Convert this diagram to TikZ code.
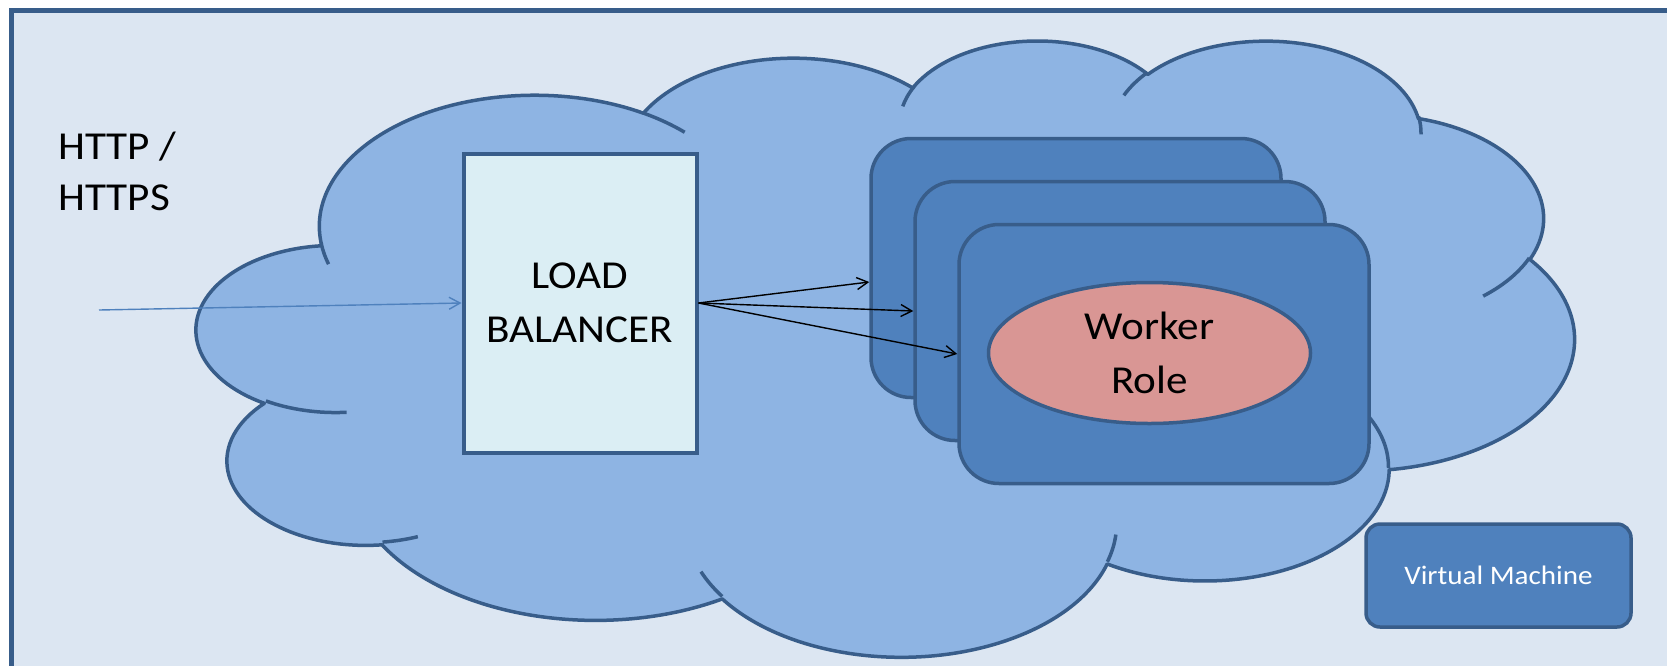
\documentclass[tikz,border=0pt]{standalone}
\usepackage{fontspec}
\newfontfamily\carl{Carlito}[FakeStretch=1.09]
\usetikzlibrary{arrows.meta,calc,shapes.geometric}
\definecolor{bgc}{HTML}{DCE6F2}
\definecolor{edgec}{HTML}{385D8A}
\definecolor{cloudc}{HTML}{8EB4E3}
\definecolor{lbc}{HTML}{DBEEF4}
\definecolor{boxc}{HTML}{4F81BD}
\definecolor{ellc}{HTML}{D99694}
\definecolor{inc}{HTML}{4F81BD}
\pgfmathdeclarefunction{oarcs}{3}{\pgfmathparse{atan2(#1*sin(#3),#2*cos(#3))}}
\pgfmathdeclarefunction{oarcd}{4}{%
  \begingroup
  \pgfmathparse{atan2(#1*sin(#3+#4),#2*cos(#3+#4))-atan2(#1*sin(#3),#2*cos(#3))}%
  \let\oarctmp\pgfmathresult
  \pgfmathparse{\oarctmp+360*round((#4-\oarctmp)/360)}%
  \pgfmathsmuggle\pgfmathresult
  \endgroup}
\newcommand\oarc[4]{arc[start angle={oarcs(#1,#2,#3)}, delta angle={oarcd(#1,#2,#3,#4)}, x radius=#1pt, y radius=#2pt]}
\tikzset{
  cloudline/.style={draw=edgec, line width=3.5pt, line join=round},
  lbbox/.style={draw=edgec, line width=4pt, fill=lbc, minimum width=233pt, minimum height=299pt, inner sep=0pt, align=center, font=\carl\fontsize{39.6}{54}\selectfont},
  wbox/.style={draw=edgec, line width=3.5pt, fill=boxc, rounded corners=40pt, minimum width=410pt, minimum height=259pt},
  wrole/.style={ellipse, draw=edgec, line width=3.5pt, fill=ellc, minimum width=322pt, minimum height=141pt, inner sep=0pt, align=center, font=\carl\fontsize{39.6}{54}\selectfont},
  vmbox/.style={draw=edgec, line width=3.5pt, fill=boxc, rounded corners=14pt, minimum width=265pt, minimum height=103pt, text=white, font=\carl\fontsize{26.7}{32}\selectfont},
  lbl/.style={inner sep=0pt, align=left, font=\carl\fontsize{39.6}{51}\selectfont},
  outarrow/.style={draw=black, line width=1.4pt, -{Straight Barb[length=11pt,width=12pt,line width=1.4pt]}},
  inarrow/.style={draw=inc, line width=1.4pt, -{Straight Barb[length=11pt,width=12pt,line width=1.4pt]}}
}
\begin{document}
\begin{tikzpicture}[x=1pt,y=1pt,yscale=-1]
\useasboundingbox (0,0) rectangle (1667,665);
\clip (0,0) rectangle (1667,665);
\fill[white] (0,0) rectangle (1667,665);
\filldraw[fill=bgc, draw=edgec, line width=4.5pt] (11.5,10.5) rectangle (1720,720);
% cloud
\begin{scope}[shift={(197,39)}, xscale=31.875, yscale=14.26]
\filldraw[cloudline, fill=cloudc] (3.900,14.370)
  \oarc{6.753}{9.190}{-190.48748}{123.78053}
  \oarc{5.333}{7.267}{-144.10238}{89.94523}
  \oarc{4.365}{5.945}{-145.80792}{99.72302}
  \oarc{4.857}{6.595}{-130.98607}{117.24173}
  \oarc{5.333}{7.273}{-78.70888}{109.02692}
  \oarc{6.775}{9.220}{-46.26725}{130.269}
  \oarc{5.785}{7.867}{0.62502}{114.03333}
  \oarc{6.752}{9.215}{22.4516}{115.17255}
  \oarc{7.720}{10.543}{66.24263}{75.71102}
  \oarc{4.360}{5.918}{-274.94208}{146.73557}
  \oarc{4.345}{5.945}{-246.8285}{152.51885}
  -- cycle;
\draw[cloudline] (4.693,26.177) \oarc{4.345}{5.945}{86.742}{26.4295};
\draw[cloudline] (6.928,34.899) \oarc{4.360}{5.918}{73.61047}{11.44747};
\draw[cloudline] (16.478,39.090) \oarc{6.752}{9.215}{137.62415}{14.0811};
\draw[cloudline] (28.827,34.751) \oarc{6.752}{9.215}{6.45327}{15.99835};
\draw[cloudline] (34.129,22.954) \oarc{5.785}{7.867}{-70.29235}{70.91737};
\draw[cloudline] (41.798,15.354) \oarc{5.333}{7.273}{30.31803}{27.7515};
\draw[cloudline] (38.324,5.426) \oarc{4.857}{6.595}{-13.74433}{14.8589};
\draw[cloudline] (29.078,3.952) \oarc{4.857}{6.595}{-149.18145}{18.19537};
\draw[cloudline] (22.141,4.720) \oarc{4.365}{5.945}{-163.49427}{17.68635};
\draw[cloudline] (14.000,5.192) \oarc{6.753}{9.190}{-66.70695}{12.31935};
\draw[cloudline] (4.127,15.789) \oarc{6.753}{9.190}{157.65435}{11.85817};
\end{scope}
% label
\node[lbl, anchor=north west] (http) at (58,132) {HTTP /\\HTTPS};
% load balancer
\node[lbbox] (lb) at (580,303) {LOAD\\BALANCER};
% worker boxes
\node[wbox] (box1) at (1076,268) {};
\node[wbox] (box2) at (1120,311) {};
\node[wbox] (box3) at (1164,354) {};
\node[wrole] (role) at (1149.5,353) {Worker\\Role};
% virtual machine
\node[vmbox] (vm) at (1498.5,575.5) {Virtual Machine};
% arrows
\coordinate (src) at (99,310);
\draw[inarrow] (src) -- (lb.west);
\draw[outarrow] (lb.east) -- ($(box1.west)+(0,14)$);
\draw[outarrow] (lb.east) -- (box2.west);
\draw[outarrow] (lb.east) -- (box3.west);
\end{tikzpicture}
\end{document}
